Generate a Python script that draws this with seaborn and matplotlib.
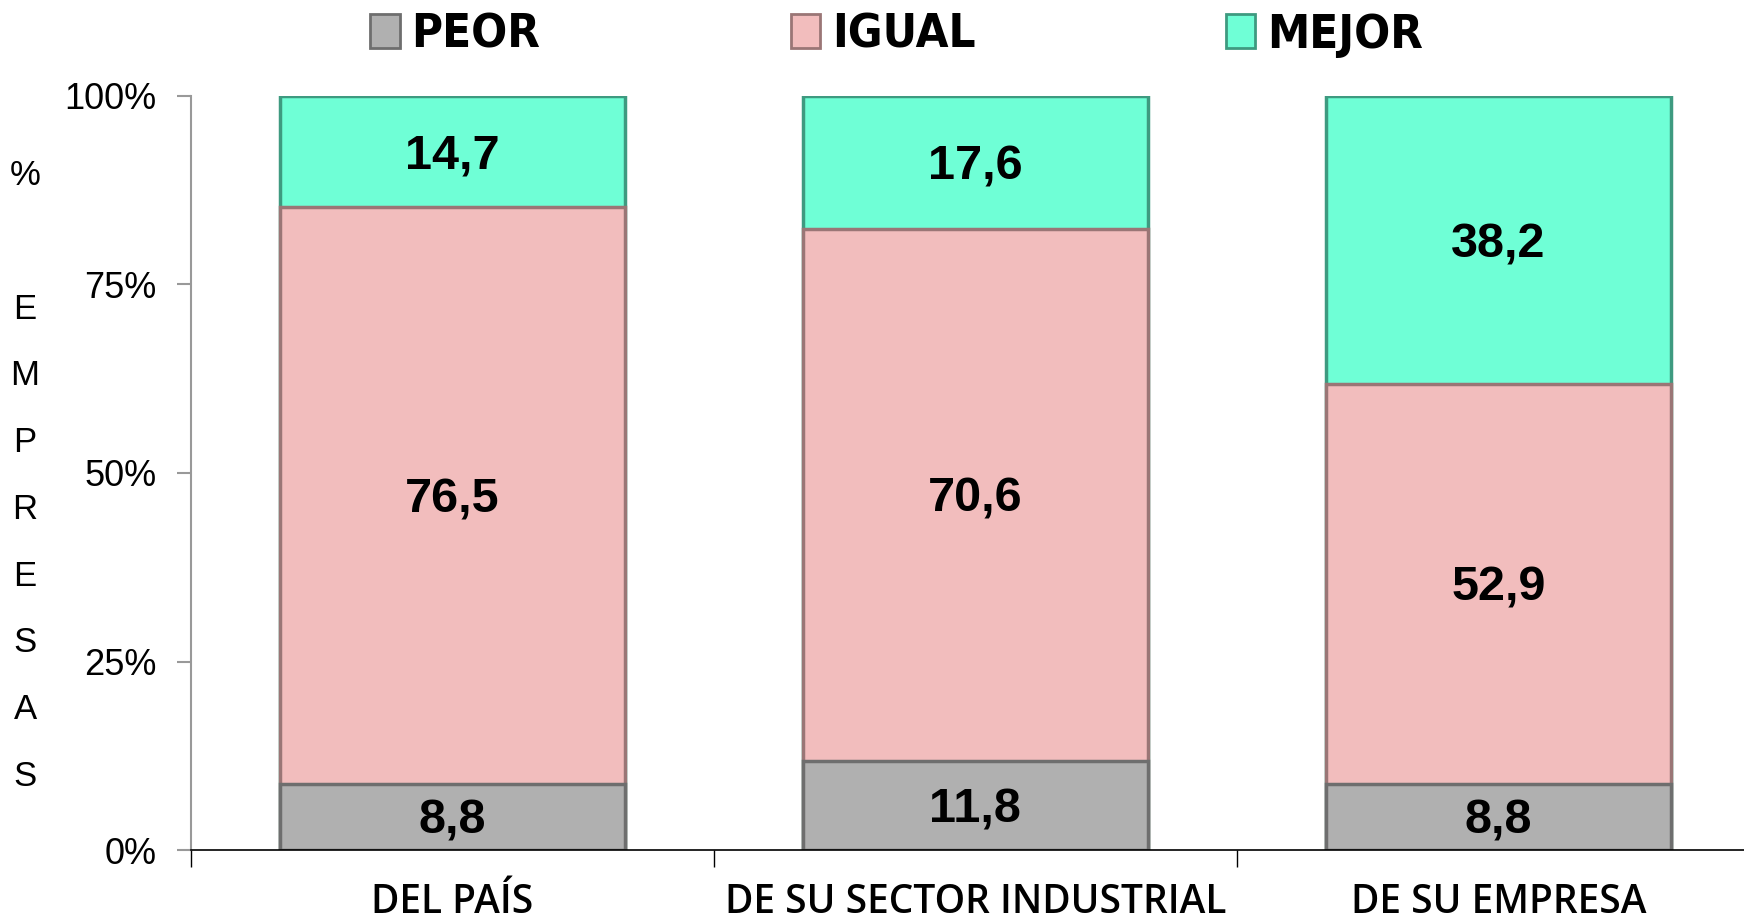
import numpy as np
import pandas as pd
import matplotlib
matplotlib.use("Agg")
import matplotlib.pyplot as plt
import seaborn as sns
from matplotlib.patches import Patch
from matplotlib.ticker import PercentFormatter

categories = ["DEL PAÍS", "DE SU SECTOR INDUSTRIAL", "DE SU EMPRESA"]
series = ["PEOR", "IGUAL", "MEJOR"]
peor = [8.8, 11.8, 8.8]
igual = [76.5, 70.6, 52.9]
mejor = [14.7, 17.6, 38.2]
colors = {"PEOR": "#B0B0B0", "IGUAL": "#F2BDBD", "MEJOR": "#6FFFD6"}
edges = {"PEOR": "#6E6E6E", "IGUAL": "#9A7676", "MEJOR": "#3E9A80"}
ylabel_chars = ["%", "", "E", "M", "P", "R", "E", "S", "A", "S"]

sns.set_theme(style="white")
plt.rcParams["font.family"] = ["Liberation Sans", "DejaVu Sans"]
plt.rcParams["text.color"] = "black"
plt.rcParams["xtick.color"] = "black"
plt.rcParams["ytick.color"] = "black"

df = pd.DataFrame({"cat": categories, "PEOR": peor, "IGUAL": igual, "MEJOR": mejor})
tot = df[series].sum(axis=1)
for s in series:
    df[s + "_pct"] = df[s] / tot * 100
df["c1"] = df["PEOR_pct"]
df["c2"] = df["c1"] + df["IGUAL_pct"]
df["c3"] = df["c2"] + df["MEJOR_pct"]

fig = plt.figure(figsize=(17.44, 9.22), dpi=100)
ax = fig.add_axes([0.1096, 0.078, 0.8904, 0.818])

# stacked bars: draw cumulative totals, tallest first
for s, col in [("MEJOR", "c3"), ("IGUAL", "c2"), ("PEOR", "c1")]:
    sns.barplot(data=df, x="cat", y=col, color=colors[s], width=0.66,
                edgecolor=edges[s], linewidth=2.5, saturation=1, ax=ax)

# value labels
for i, row in df.iterrows():
    bottoms = [0, row["c1"], row["c2"]]
    for s, b in zip(series, bottoms):
        ax.text(i, b + row[s + "_pct"] / 2 - 0.6, f"{row[s]:.1f}".replace(".", ","),
                ha="center", va="center", fontsize=35, fontweight="bold", color="black")

ax.set_ylim(0, 100)
ax.set_xlim(-0.5, 2.47)
ax.yaxis.set_major_formatter(PercentFormatter(decimals=0))
ax.set_yticks([0, 25, 50, 75, 100])
ax.tick_params(axis="y", labelsize=26, length=10, width=1.5, color="#999999",
               labelcolor="black", left=True, pad=15)
ax.set_xticks([0, 1, 2])
ax.set_xticklabels(categories, fontsize=28, family=["Open Sans", "DejaVu Sans"],
                   fontweight="semibold", color="black")
ax.tick_params(axis="x", length=0, pad=24)
ax.set_xticks([-0.5, 0.5, 1.5], minor=True)
ax.tick_params(axis="x", which="minor", bottom=True, length=12, width=1, color="black")
ax.set_xlabel("")
ax.set_ylabel("")
for sp in ["top", "right"]:
    ax.spines[sp].set_visible(False)
ax.spines["left"].set_color("#999999")
ax.spines["left"].set_linewidth(1.5)
ax.spines["bottom"].set_color("black")
ax.spines["bottom"].set_linewidth(1.2)

# stacked letters of the y label
for k, ch in enumerate(ylabel_chars):
    y_px = (158 + 60 * k) * 1744 / 1568
    fig.text(25 / 1744, 1 - y_px / 922, ch, ha="center", va="center", fontsize=25, color="black")

handles = [Patch(facecolor=colors[s], edgecolor=edges[s], linewidth=2) for s in series]
fig.legend(handles, series, loc="center", bbox_to_anchor=(0.514, 0.962), ncol=3,
           frameon=False, handlelength=0.62, handleheight=0.75, handletextpad=0.25,
           columnspacing=5.3, labelcolor="black",
           prop={"family": "DejaVu Sans", "stretch": "condensed", "weight": "bold", "size": 34})

fig.savefig("out.png", dpi=100)
